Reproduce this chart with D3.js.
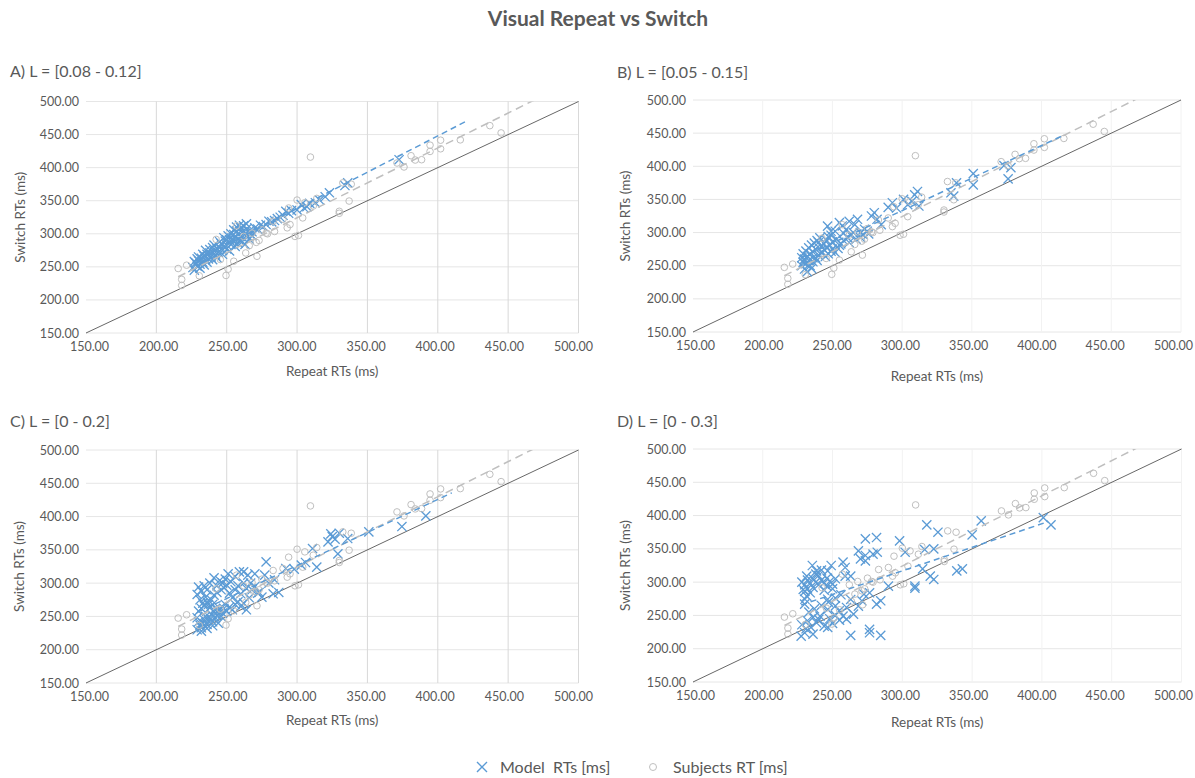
<!DOCTYPE html>
<html>
<head>
<meta charset="utf-8">
<script src="https://cdn.jsdelivr.net/npm/d3@7"></script>
<style>
  body { margin: 0; background: #fff; }
  svg { display: block; }
  text { font-family: Lato, "Open Sans", sans-serif; fill: #595959; white-space: pre; }
</style>
</head>
<body>
<svg id="chart" width="1195" height="778"></svg>
<script>
// ---- data ----
const chartTitle = "Visual Repeat vs Switch";
const panelTitles = ["A) L = [0.08 - 0.12]", "B) L = [0.05 - 0.15]", "C) L = [0 - 0.2]", "D) L = [0 - 0.3]"];
const axisTicks = [150, 200, 250, 300, 350, 400, 450, 500];
const xAxisTitle = "Repeat RTs (ms)";
const yAxisTitle = "Switch RTs (ms)";
const legendLabels = ["Model  RTs [ms]", "Subjects RT [ms]"];

// Subjects: [repeat RT, switch RT] (same participants in every panel)
const subjects = [
  [215.5,247.5],[218,231],[218,222],[221.5,252.5],[230.5,236.5],[242.5,291.5],[245.5,261],[249.5,237],
  [251,246.5],[255,258.5],[257,312],[262,296],[263.5,271],[266,282],[268,301],[271,287],[271.5,266],
  [273,290],[275,306],[278,301],[279,300],[283,319],[284,303.5],[290,322],[293,309],[294,339],[295,314],
  [298.5,296],[300,351],[301,297.5],[304,324],[305.5,347],[309.5,416],[311.5,342],[314,353.5],[330,334],
  [330,331],[332.5,377],[337,349.5],[338.5,375],[371,407],[376,401],[381,418],[384,411.5],[388.5,412],
  [394.5,434],[394.5,424.5],[402,441.5],[402,428.5],[416,442],[437,463.5],[445,452.5]
];

// Model predictions per panel: [repeat RT, switch RT]
const modelA = [
  [372.5,412],[336,377],[334,373],[323,362],[320,356],[316,351],[313,347],[309,346],[307,341],[305,339],
  [303,344],[300,336],[296,335],[294,331],[292,334],[290,328],[288,325],[286,323],[284,320],[282,318],
  [280,319],[278,314],[276,311],[274,313],[272,307],[270,309],[268,303],[267,299],[266,304],[265,296],
  [264,307],[263,300],[262,293],[261,303],[260,309],[260,296],[259,290],[258,300],[257,304],[256,294],
  [255,288],[255,299],[254,292],[253,284],[252,291],[251,297],[250,283],[250,277],[249,289],[248,281],
  [247,275],[246,285],[245,279],[244,272],[243,277],[242,268],[241,274],[240,279],[239,265],[238,271],
  [237,262],[236,269],[235,261],[234,266],[233,257],[232,263],[231,254],[230,259],[229,251],[228,256],
  [231,248],[234,253],[236,257],[240,261],[243,264],[247,269],[252,274],[256,281],[258,286],[261,288],
  [263,284],[266,292],[268,297],[238,276],[245,288],[250,291],[253,300],[257,310],[262,312],[264,315],
  [259,313],[233,269],[230,265],[227,258],[229,262],[235,275],[241,283],[248,294],[255,306],[226,249],[227,245]
];
const modelB = [
  [378,398],[373,401],[376,381],[351,389],[351,372],[339,375],[335,360],[337,355],[311,362],[309,357],
  [312,340],[307,347],[304,342],[301,350],[296,337],[293,345],[290,338],[280,330],[278,325],[282,320],
  [285,312],[275,302],[272,297],[270,300],[268,320],[266,312],[262,317],[257,310],[255,315],[260,305],
  [258,299],[252,302],[249,296],[247,294],[246,288],[250,286],[253,290],[255,281],[244,283],[242,279],
  [240,285],[238,275],[236,271],[234,268],[232,264],[230,260],[229,255],[228,250],[230,245],[232,241],
  [234,250],[236,256],[238,262],[240,266],[242,270],[244,274],[246,277],[248,281],[250,275],[252,270],
  [254,276],[256,283],[258,288],[261,292],[263,296],[265,300],[229,268],[231,272],[233,277],[235,281],
  [237,284],[239,288],[241,292],[243,270],[245,264],[247,268],[249,272],[233,258],[236,262],[228,262],
  [231,253],[235,246],[239,258],[262,285],[267,290],[270,293],[273,305],[276,298],[246.5,309.7],[249,302]
];
const modelC = [
  [391.5,401],[374.5,385],[351,377],[336,367],[329,344],[330,375],[325,370],[322,362],[324,374],[327,366],
  [311,352],[314,324],[303,327],[306,331],[298,321],[292,322],[287,286],[283,284],[278,332],[277,312],
  [273,286],[270,314],[267,300],[265,312],[262,317],[259,317],[256,310],[251,314],[253,302],[249,306],
  [247,300],[245,304],[243,296],[241,308],[238,300],[236,290],[234,296],[232,288],[230,294],[229,283],
  [231,275],[233,270],[235,279],[237,268],[239,275],[241,282],[243,286],[246,290],[248,293],[250,297],
  [252,285],[254,278],[256,290],[258,296],[260,284],[262,300],[264,292],[266,278],[268,290],[270,295],
  [272,285],[275,279],[280,300],[284,305],[229,248],[230,242],[231,237],[232,233],[233,240],[234,245],
  [235,250],[236,238],[237,243],[238,248],[239,253],[240,242],[241,257],[242,248],[243,252],[244,258],
  [245,262],[246,250],[247,255],[248,262],[249,268],[250,258],[252,264],[254,260],[256,268],[258,272],
  [260,265],[262,270],[264,260],[230,258],[232,262],[234,266],[236,272],[238,263],[240,268],[242,262],
  [229,230],[232,228],[236,232],[240,236],[244,240]
];
const modelD = [
  [406.5,386],[401,397],[356.5,392],[350,371],[325.5,375],[317.5,386],[322.5,350],[316,349],[314.5,320],
  [320,309],[322.5,304],[309,294],[309,291],[339,317],[343,320],[302,345],[298,362],[290,294],[284.5,272],
  [281.5,267],[281.5,367],[273.5,365],[268.5,347],[273.5,340],[279,342],[282,345],[273.5,332],[270,335],
  [276.5,284],[272.5,282],[271,272],[268.5,264],[263,274],[276.5,229],[276.5,224],[284.5,220],[263,220],
  [257.5,330],[259,322],[259,309],[263,309],[249,325],[246.5,317],[238.5,317],[235.5,325],[231.5,309],
  [228,300],[230,296],[232,303],[234,298],[236,305],[238,300],[240,296],[242,303],[244,299],[246,306],
  [248,301],[250,297],[252,305],[236,292],[240,310],[244,288],[232,290],[230,286],[234,284],[238,312],
  [242,318],[246,294],[250,290],[229,289],[227.5,219],[230,224],[234.5,232],[238.5,239],[244,234],
  [246.5,232],[257.5,249],[246.5,259],[241,249],[230,267],[231.5,279],[232,242],[236,247],[240,244],
  [248,245],[252,250],[255,243],[250,238],[228,236],[233,255],[237,260],[242,265],[247,270],[252,276],
  [256,281],[260,262],[265,252],[231,230],[236,222],[254.7,256.8],[260,244.4],[252,264.3],[230.2,274.3],[246.5,274.3]
];
const modelSeries = [modelA, modelB, modelC, modelD];

// Repeat RT where each panel's model trendline stops
const modelTrendEnd = [420, 416, 410, 403];
const subjectTrendEnd = 480;

// ---- layout ----
const panels = [
  { left: 86,  right: 578.5, top: 101.5, bottom: 333, tickL: 89,  tickR: 573,  labelX: 10,  labelY: 71,  yTitleX: 20,  xTitleY: 371, vGrid: "#d9d9d9" },
  { left: 693, right: 1181,  top: 100,   bottom: 332, tickL: 695, tickR: 1173, labelX: 617, labelY: 72,  yTitleX: 625, xTitleY: 376, vGrid: "#f2f2f2" },
  { left: 86,  right: 578.5, top: 450,   bottom: 683, tickL: 89,  tickR: 573,  labelX: 10,  labelY: 421, yTitleX: 19,  xTitleY: 720, vGrid: "#d9d9d9" },
  { left: 693, right: 1181.5,top: 449,   bottom: 682, tickL: 695, tickR: 1173, labelX: 617, labelY: 421, yTitleX: 625, xTitleY: 722, vGrid: "#f2f2f2" }
];

const BLUE = "#5b9bd5", GREY = "#bfbfbf";
const svg = d3.select("#chart");
svg.append("rect").attr("width", 1195).attr("height", 778).attr("fill", "#fff");

svg.append("text").attr("x", 598).attr("y", 19).attr("dy", "0.35em").attr("text-anchor", "middle")
  .style("font-size", "21px").style("font-weight", "bold").text(chartTitle);

// least-squares line through [x, y] pairs
function linearFit(pts) {
  const mx = d3.mean(pts, d => d[0]), my = d3.mean(pts, d => d[1]);
  const sxy = d3.sum(pts, d => (d[0] - mx) * (d[1] - my));
  const sxx = d3.sum(pts, d => (d[0] - mx) ** 2);
  const b = sxy / sxx;
  return { slope: b, intercept: my - b * mx };
}

function crossPath(s) {
  return `M${-s},${-s}L${s},${s}M${-s},${s}L${s},${-s}`;
}

panels.forEach((p, i) => {
  const x = d3.scaleLinear().domain([150, 500]).range([p.left, p.right]);
  const y = d3.scaleLinear().domain([150, 500]).range([p.bottom, p.top]);
  // tick labels sit on a slightly narrower span so the last one stays inside the frame
  const xLabel = d3.scaleLinear().domain([150, 500]).range([p.tickL, p.tickR]);
  const g = svg.append("g");

  const clipId = "clip" + i;
  svg.append("clipPath").attr("id", clipId).append("rect")
    .attr("x", p.left).attr("y", p.top).attr("width", p.right - p.left).attr("height", p.bottom - p.top);

  // gridlines
  g.append("g").selectAll("line").data(axisTicks).join("line")
    .attr("x1", p.left).attr("x2", p.right).attr("y1", d => y(d)).attr("y2", d => y(d))
    .attr("stroke", "#e6e6e6").attr("stroke-width", 1);
  g.append("g").selectAll("line").data(axisTicks.slice(1)).join("line")
    .attr("x1", d => x(d)).attr("x2", d => x(d)).attr("y1", p.top).attr("y2", p.bottom)
    .attr("stroke", p.vGrid).attr("stroke-width", 1);

  // axes (labels only)
  const yAxis = d3.axisLeft(y).tickValues(axisTicks).tickSize(0).tickPadding(7).tickFormat(d3.format(".2f"));
  const xAxis = d3.axisBottom(xLabel).tickValues(axisTicks).tickSize(0).tickPadding(9).tickFormat(d3.format(".2f"));
  const ya = g.append("g").attr("transform", `translate(${p.left},0)`).call(yAxis);
  const xa = g.append("g").attr("transform", `translate(0,${p.bottom})`).call(xAxis);
  [ya, xa].forEach(a => {
    a.select(".domain").remove();
    a.selectAll("text").style("font-size", "12.5px").style("fill", "#595959").style("font-family", "Lato, sans-serif");
  });

  // identity line
  g.append("line").attr("x1", x(150)).attr("y1", y(150)).attr("x2", x(500)).attr("y2", y(500))
    .attr("stroke", "#404040").attr("stroke-width", 0.8);

  // model markers
  g.append("g").selectAll("path").data(modelSeries[i]).join("path")
    .attr("transform", d => `translate(${x(d[0])},${y(d[1])})`)
    .attr("d", crossPath(4.6)).attr("fill", "none").attr("stroke", BLUE).attr("stroke-width", 1.3);

  // subject markers
  g.append("g").selectAll("circle").data(subjects).join("circle")
    .attr("cx", d => x(d[0])).attr("cy", d => y(d[1])).attr("r", 3.3)
    .attr("fill", "none").attr("stroke", GREY).attr("stroke-width", 1);

  // trendlines
  const trends = g.append("g").attr("clip-path", `url(#${clipId})`);
  const fs = linearFit(subjects);
  const sx0 = d3.min(subjects, d => d[0]);
  trends.append("line")
    .attr("x1", x(sx0)).attr("y1", y(fs.intercept + fs.slope * sx0))
    .attr("x2", x(subjectTrendEnd)).attr("y2", y(fs.intercept + fs.slope * subjectTrendEnd))
    .attr("stroke", GREY).attr("stroke-width", 1.5).attr("stroke-dasharray", "8,5");
  const fm = linearFit(modelSeries[i]);
  const mx0 = d3.min(modelSeries[i], d => d[0]);
  trends.append("line")
    .attr("x1", x(mx0)).attr("y1", y(fm.intercept + fm.slope * mx0))
    .attr("x2", x(modelTrendEnd[i])).attr("y2", y(fm.intercept + fm.slope * modelTrendEnd[i]))
    .attr("stroke", BLUE).attr("stroke-width", 1.5).attr("stroke-dasharray", "6,4");

  // titles
  g.append("text").attr("x", p.labelX).attr("y", p.labelY).attr("dy", "0.35em")
    .style("font-size", "16px").text(panelTitles[i]);
  g.append("text").attr("x", (p.left + p.right) / 2).attr("y", p.xTitleY).attr("dy", "0.35em")
    .attr("text-anchor", "middle").style("font-size", "13.5px").text(xAxisTitle);
  g.append("text").attr("transform", `translate(${p.yTitleX},${(p.top + p.bottom) / 2}) rotate(-90)`)
    .attr("dy", "0.35em").attr("text-anchor", "middle").style("font-size", "13.5px").text(yAxisTitle);
});

// legend
const lg = svg.append("g");
lg.append("path").attr("transform", "translate(482,767)").attr("d", crossPath(5))
  .attr("fill", "none").attr("stroke", BLUE).attr("stroke-width", 1.4);
lg.append("text").attr("x", 500).attr("y", 767).attr("dy", "0.35em").style("font-size", "16px").text(legendLabels[0]);
lg.append("circle").attr("cx", 653).attr("cy", 767).attr("r", 3.5)
  .attr("fill", "none").attr("stroke", GREY).attr("stroke-width", 1);
lg.append("text").attr("x", 673).attr("y", 767).attr("dy", "0.35em").style("font-size", "16px").text(legendLabels[1]);
</script>
</body>
</html>
